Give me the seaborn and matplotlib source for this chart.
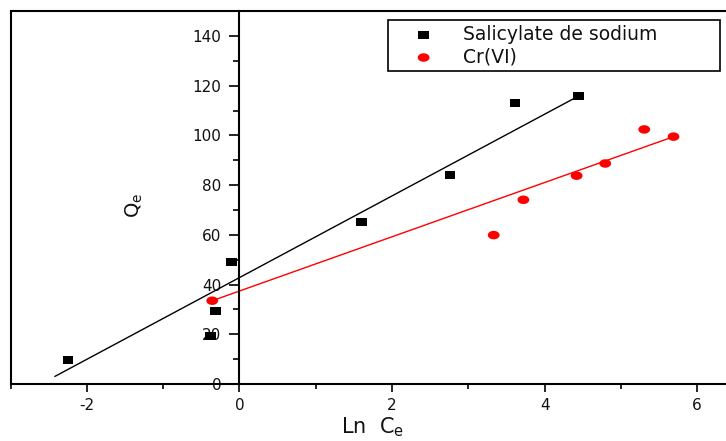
import numpy as np
import matplotlib
matplotlib.use("Agg")
import matplotlib.pyplot as plt
from matplotlib.ticker import MultipleLocator
from matplotlib.lines import Line2D
import seaborn as sns

# Sodium salicylate adsorption: Qe versus ln Ce
sal_x = [-2.245, -0.380, -0.311, -0.105, 1.597, 2.762, 3.613, 4.442]
sal_y = [9.7, 19.3, 29.2, 49.0, 65.0, 84.1, 113.2, 115.8]
# Cr(VI) adsorption: Qe versus ln Ce
cr_x = [-0.357, 3.333, 3.722, 4.420, 4.795, 5.306, 5.690]
cr_y = [33.5, 59.9, 74.1, 83.8, 88.7, 102.4, 99.5]

# Linear fits (slope, intercept) and the x span over which each is drawn
sal_fit = (16.43, 42.8)
sal_fit_span = [-2.42, 4.442]
cr_fit = (10.91, 37.4)
cr_fit_span = [-0.357, 5.690]

series_labels = ["Salicylate de sodium", "Cr(VI)"]
x_label = r"Ln  C$\mathregular{_e}$"
y_label = r"Q$\mathregular{_e}$"

sns.set_style("white")
plt.rcParams["font.family"] = ["DejaVu Sans"]
plt.rcParams["axes.unicode_minus"] = False
plt.rcParams["text.color"] = "#111111"
plt.rcParams["axes.labelcolor"] = "#111111"

W, H = 726, 441
fig = plt.figure(figsize=(W / 100, H / 100), dpi=100)
ax = fig.add_axes([10.6 / W, (H - 384) / H, (735.3 - 10.6) / W, 372.9 / H])

# marker shapes (slightly wide rectangle / ellipse)
square = [(-1, -0.77), (1, -0.77), (1, 0.77), (-1, 0.77), (-1, -0.77)]
t = np.linspace(0, 2 * np.pi, 60)
ellipse = list(zip(np.cos(t), 0.72 * np.sin(t)))

for (slope, icpt), span, col in [(sal_fit, sal_fit_span, "black"),
                                 (cr_fit, cr_fit_span, "red")]:
    xs = np.array(span)
    sns.lineplot(x=xs, y=slope * xs + icpt, color=col, lw=1.0, ax=ax,
                 zorder=2)

sns.scatterplot(x=sal_x, y=sal_y, marker=square, s=58, color="black",
                edgecolor="none", label=series_labels[0], ax=ax, zorder=3)
sns.scatterplot(x=cr_x, y=cr_y, marker=ellipse, s=72, color="red",
                edgecolor="none", label=series_labels[1], ax=ax, zorder=3)

ax.set_xlim(-3, 6.5)
ax.set_ylim(0, 150)

# y axis drawn through x = 0, with a plain frame line at the left edge
ax.spines["left"].set_position(("data", 0))
ax.spines["right"].set_visible(False)
for s in ["left", "top", "bottom"]:
    ax.spines[s].set_linewidth(1.5)
    ax.spines[s].set_color("black")
ax.add_line(Line2D([0, 0], [0, 1], transform=ax.transAxes, color="black",
                   lw=1.5, clip_on=False))

ax.xaxis.set_major_locator(MultipleLocator(2))
ax.xaxis.set_minor_locator(MultipleLocator(1))
ax.yaxis.set_major_locator(MultipleLocator(20))
ax.yaxis.set_minor_locator(MultipleLocator(10))
ax.tick_params(axis="both", which="both", direction="out", color="black",
               width=1.2, labelsize=11, labelcolor="#111111")
ax.tick_params(axis="x", which="major", length=6, pad=4, bottom=True)
ax.tick_params(axis="x", which="minor", length=3.5, bottom=True)
ax.tick_params(axis="y", which="major", length=7, pad=6, left=True)
ax.tick_params(axis="y", which="minor", length=4.5, left=True)
ax.tick_params(top=False, right=False, which="both")

ax.set_xlabel(x_label, fontsize=15, ha="left", va="baseline")
ax.xaxis.set_label_coords(341 / W, (H - 433) / H, transform=fig.transFigure)
ax.set_ylabel(y_label, fontsize=14, rotation=90, ha="center", va="center")
ax.yaxis.set_label_coords(134 / W, (H - 205) / H, transform=fig.transFigure)

leg = ax.legend(loc="upper left", mode="expand", borderaxespad=0,
                bbox_to_anchor=(388 / W, 1 - 74 / H, (720 - 388) / W, 54 / H),
                bbox_transform=fig.transFigure, fancybox=False, framealpha=1,
                edgecolor="black", fontsize=13.5, borderpad=0.25,
                labelspacing=0.2, handlelength=3.3, handletextpad=0.45)
leg.get_frame().set_linewidth(1.2)

fig.savefig("out.png", dpi=100)
